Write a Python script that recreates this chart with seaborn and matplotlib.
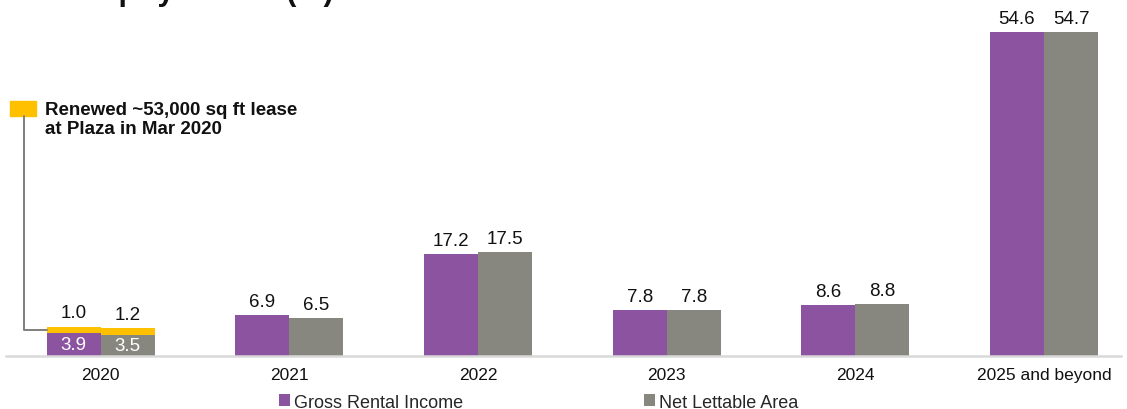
import matplotlib
matplotlib.use("Agg")
import matplotlib.pyplot as plt
from matplotlib.patches import Rectangle
import seaborn as sns
import pandas as pd

years = ["2020", "2021", "2022", "2023", "2024", "2025 and beyond"]
gri = [3.9, 6.9, 17.2, 7.8, 8.6, 54.6]
nla = [3.5, 6.5, 17.5, 7.8, 8.8, 54.7]
renewed = [1.0, 1.2]  # 2020 lease renewed at Plaza (GRI, NLA)
series = ["Gross Rental Income", "Net Lettable Area"]
note = "Renewed ~53,000 sq ft lease\nat Plaza in Mar 2020"
title = "Lease Expiry Profile (%)"

purple = "#8B53A0"
grey = "#878780"
yellow = "#FFC000"

df = pd.DataFrame({
    "year": years * 2,
    "value": gri + nla,
    "series": [series[0]] * len(years) + [series[1]] * len(years),
})

sns.set_style("white")
plt.rcParams["font.family"] = ["Liberation Sans", "DejaVu Sans"]

fig = plt.figure(figsize=(11.27, 4.1), dpi=100)
ax = fig.add_axes([0.005, 0.129, 0.99, 0.871])

sns.barplot(data=df, x="year", y="value", hue="series", palette=[purple, grey],
            width=0.573, saturation=1, linewidth=0, ax=ax, errorbar=None)

ax.set_xlim(-0.504, 5.41)
ax.set_ylim(0, 60.2)
ax.set_xlabel("")
ax.set_ylabel("")
ax.set_yticks([])
for s in ["left", "right", "top"]:
    ax.spines[s].set_visible(False)
ax.spines["bottom"].set_color("#D9D9D9")
ax.spines["bottom"].set_linewidth(1.8)
ax.tick_params(axis="x", length=0, pad=7.5, labelsize=12.5, labelcolor="#111111")

# renewed portion stacked on 2020 bars
for i, cont in enumerate(ax.containers[:2]):
    b = cont[0]
    ax.bar(b.get_x(), renewed[i], width=b.get_width(), bottom=b.get_height(),
           align="edge", color=yellow, linewidth=0)

# value labels
for i, cont in enumerate(ax.containers[:2]):
    vals = [gri, nla][i]
    for j, b in enumerate(cont):
        cx = b.get_x() + b.get_width() / 2
        if j == 0:
            ax.text(cx, b.get_height() / 2, f"{vals[j]:.1f}", ha="center", va="center",
                    color="white", fontsize=13.5)
            ax.annotate(f"{renewed[i]:.1f}", (cx, b.get_height() + renewed[i]),
                        xytext=(0, 4), textcoords="offset points", ha="center",
                        va="bottom", fontsize=13.5, color="#111111")
        else:
            ax.annotate(f"{vals[j]:.1f}", (cx, b.get_height()), xytext=(0, 3.5),
                        textcoords="offset points", ha="center", va="bottom",
                        fontsize=13.5, color="#111111")

# callout for the renewed lease
b0 = ax.containers[0][0]
ax.add_patch(Rectangle((-0.483, 40.5), 0.138, 2.5, color=yellow, clip_on=False))
ax.plot([-0.409, -0.409, b0.get_x()], [40.5, gri[0] + renewed[0] / 2, gri[0] + renewed[0] / 2],
        color="#7F7F7F", lw=1.4, clip_on=False, zorder=1)
ax.text(-0.297, 43.0, note, ha="left", va="top", fontsize=13.5, fontweight="bold",
        color="#111111", linespacing=1.15)

# legend
handles, labels = ax.get_legend_handles_labels()
ax.legend_.remove()
fig.legend(handles, labels, loc="center", bbox_to_anchor=(0.478, 0.017), ncol=2,
           frameon=False, fontsize=13, handlelength=0.6, handleheight=0.6,
           handletextpad=0.25, columnspacing=10.0)

fig.text(-0.012, 1.0, title, ha="left", va="baseline", fontsize=22, fontweight="bold",
         color="#111111")

fig.savefig("out.png", dpi=100)
